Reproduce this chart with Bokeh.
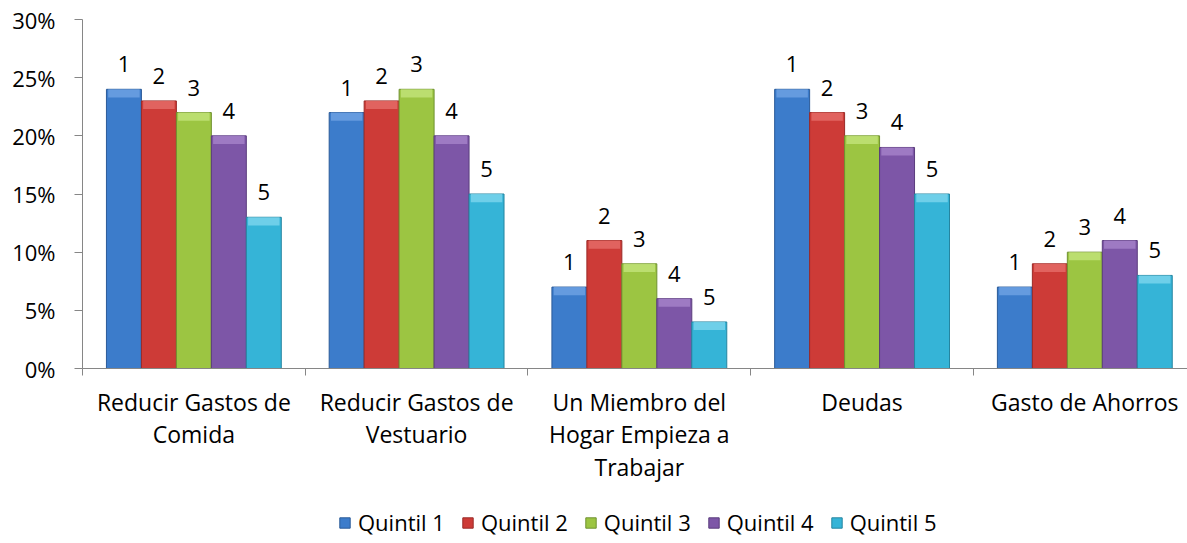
from bokeh.plotting import figure
from bokeh.layouts import column
from bokeh.models import (ColumnDataSource, Range1d, FixedTicker, PrintfTickFormatter,
                          Legend, LegendItem)
from bokeh.core.properties import value
from bokeh.embed import file_html
from bokeh.resources import INLINE

# ---- data ----
categories = ["Reducir Gastos de\nComida", "Reducir Gastos de\nVestuario",
              "Un Miembro del\nHogar Empieza a\nTrabajar", "Deudas", "Gasto de Ahorros"]
series_names = ["Quintil 1", "Quintil 2", "Quintil 3", "Quintil 4", "Quintil 5"]
bar_labels = ["1", "2", "3", "4", "5"]
quintil_1 = [24, 22, 7, 24, 7]
quintil_2 = [23, 23, 11, 22, 9]
quintil_3 = [22, 24, 9, 20, 10]
quintil_4 = [20, 20, 6, 19, 11]
quintil_5 = [13, 15, 4, 15, 8]
y_ticks = [0, 5, 10, 15, 20, 25, 30]

series = [quintil_1, quintil_2, quintil_3, quintil_4, quintil_5]
colors = ["#3C7CCB", "#CD3B37", "#9CC542", "#7D56A7", "#35B4D7"]
light = ["#6FA3E3", "#E66E69", "#C3E47A", "#A683CB", "#7DD6EE"]
edges = ["#2A5A98", "#9A2A27", "#6F9130", "#5A3C7C", "#2585A0"]

FONT = "Open Sans"
FS = "22px"
FS_CAT = "23px"

MAIN_H = 498
p = figure(width=1187, height=MAIN_H, output_backend="svg", toolbar_location=None,
           x_range=Range1d(0, 4.961), y_range=Range1d(0, 30),
           min_border_left=82, min_border_right=0, min_border_top=19,
           min_border_bottom=MAIN_H - 368, outline_line_color=None)
p.grid.visible = False

# legend strip (its ranges keep the bars out of view; only the legend shows)
lg = figure(width=1187, height=543 - MAIN_H, output_backend="svg", toolbar_location=None,
            x_range=Range1d(100, 101), y_range=Range1d(100, 101),
            min_border_left=0, min_border_right=0, min_border_top=0, min_border_bottom=0,
            outline_line_color=None)
lg.axis.visible = False
lg.grid.visible = False

bw = 0.157
legend_renderers = []
for j, vals in enumerate(series):
    xs = [i + 0.5 + (j - 2) * bw for i in range(len(categories))]
    src = ColumnDataSource(dict(x=xs, top=vals, lbl=[bar_labels[j]] * len(vals),
                                cap=[v - 0.7 for v in vals]))
    p.vbar(x="x", top="top", bottom=0, width=bw, source=src,
           fill_color=colors[j], line_color=edges[j], line_width=1)
    p.vbar(x="x", top="top", bottom="cap", width=bw * 0.9, source=src,
           fill_color=light[j], line_color=None, fill_alpha=0.8)
    p.text(x="x", y="top", text="lbl", source=src, text_align="center",
           text_baseline="alphabetic", y_offset=-25, text_font=value(FONT),
           text_font_size=FS, text_color="#000000")
    lr = lg.vbar(x="x", top="top", bottom=0, width=bw, source=src,
                 fill_color=colors[j], line_color=edges[j], line_width=1)
    legend_renderers.append(lr)

# y axis
ya = p.yaxis[0]
ya.ticker = FixedTicker(ticks=y_ticks, minor_ticks=[])
ya.formatter = PrintfTickFormatter(format="%d%%")
ya.axis_line_color = "#868686"
ya.major_tick_line_color = "#868686"
ya.major_tick_out = 8
ya.major_tick_in = 0
ya.minor_tick_line_color = None
ya.major_label_standoff = 19
ya.major_label_text_font = FONT
ya.major_label_text_font_size = FS
ya.major_label_text_color = "#000000"

# x axis
xa = p.xaxis[0]
centers = [i + 0.5 for i in range(len(categories))]
xa.ticker = FixedTicker(ticks=centers, minor_ticks=list(range(len(categories) + 1)))
xa.major_label_overrides = {c: lab for c, lab in zip(centers, categories)}
xa.axis_line_color = "#868686"
xa.major_tick_line_color = None
xa.major_tick_out = 0
xa.major_tick_in = 0
xa.minor_tick_line_color = "#868686"
xa.minor_tick_out = 7
xa.minor_tick_in = 0
xa.major_label_standoff = 10
xa.major_label_text_font = FONT
xa.major_label_text_font_size = FS_CAT
xa.major_label_text_color = "#000000"
xa.major_label_text_line_height = 1.03

legend = Legend(items=[LegendItem(label=n, renderers=[r]) for n, r in zip(series_names, legend_renderers)],
                orientation="horizontal", location=(256, 6),
                glyph_width=13, glyph_height=13, label_standoff=7, spacing=16,
                padding=0, margin=0, border_line_color=None, background_fill_alpha=0,
                label_text_font=FONT, label_text_font_size=FS, label_text_color="#000000")
lg.add_layout(legend, "center")

layout = column(p, lg, spacing=0)
open("out.html", "w").write(file_html(layout, INLINE))
